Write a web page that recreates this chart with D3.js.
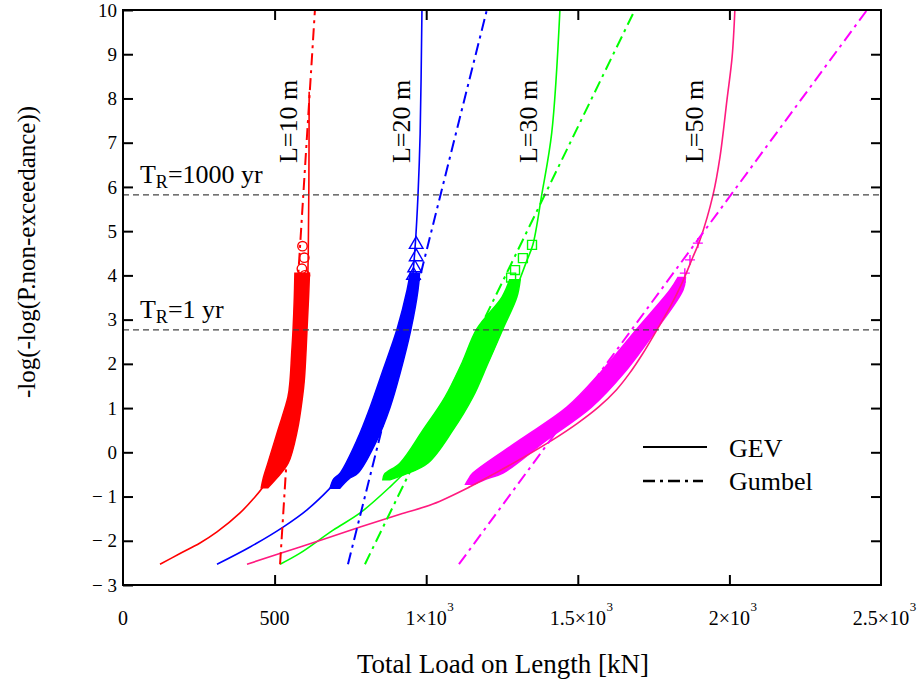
<!DOCTYPE html>
<html>
<head>
<meta charset="utf-8">
<script src="https://cdn.jsdelivr.net/npm/d3@7"></script>
<style>
  body { margin: 0; background: #fff; }
  svg text { font-family: "Liberation Serif", "Times New Roman", serif; fill: #000; }
</style>
</head>
<body>
<svg id="chart" width="920" height="685" font-family="Liberation Serif, Times New Roman, serif"></svg>
<script>
// ---- data -------------------------------------------------------------
const lengths = ["L=10 m", "L=20 m", "L=30 m", "L=50 m"];
const sampleColors = ["#ff0000", "#0000ff", "#00ff00", "#ff00ff"];
const gevColors = ["#ff0000", "#0000ff", "#00ff00", "#ff1a7f"];
const gumbelColors = ["#ff0000", "#0000ff", "#00ff00", "#ff00ff"];
const markerShapes = ["circle", "triangle", "square", "plus"];

// fitted GEV curves: [load kN, reduced variate]
const gev10 = [[122,-2.53],[185,-2.30],[254,-2.05],[310,-1.80],[386,-1.37],[430,-1.05],[462,-0.78],[492,-0.38],[520,0.05],[548,0.60],[570,1.10],[588,1.75],[600,2.50],[607,3.40],[611,4.50],[613,6.00],[614,8.15]];
const gev20 = [[310,-2.53],[419,-2.14],[528,-1.69],[607,-1.30],[683,-0.81],[735,-0.40],[785,0.05],[830,0.65],[870,1.35],[905,2.15],[933,2.95],[952,3.75],[964,4.70],[973,5.82],[980,7.20],[986,10]];
const gev30 = [[518,-2.53],[584,-2.28],[693,-1.76],[782,-1.37],[881,-0.78],[940,-0.38],[1000,0.05],[1070,0.65],[1140,1.35],[1203,2.05],[1250,2.80],[1292,3.60],[1330,4.30],[1352,4.70],[1381,5.82],[1414,7.22],[1441,10]];
const gev50 = [[409,-2.53],[584,-2.14],[782,-1.69],[914,-1.40],[1022,-1.17],[1144,-0.78],[1228,-0.47],[1322,-0.11],[1417,0.28],[1500,0.66],[1568,1.02],[1627,1.41],[1671,1.79],[1715,2.24],[1761,2.77],[1804,3.28],[1844,3.83],[1880,4.42],[1903,4.80],[1946,5.82],[1969,6.68],[1992,7.97],[2009,8.94],[2018,10]];

// fitted Gumbel lines: [load kN, reduced variate]
const gumbel10 = [[518,-2.53],[633,10]];
const gumbel20 = [[742,-2.53],[1200,10]];
const gumbel30 = [[798,-2.53],[1688,10]];
const gumbel50 = [[1108,-2.53],[2454,10]];

// dense simulated maxima: [reduced variate, lowest load, highest load]
const sample10 = [[-0.80,456,478],[-0.60,462,505],[-0.24,478,545],[0.50,511,575],[1.25,544,592],[1.63,551,598],[2.20,556,603],[2.79,561,607],[3.50,565,612],[4.05,567,615]];
const sample20 = [[-0.81,683,715],[-0.60,695,745],[-0.47,716,775],[0.28,772,838],[1.02,815,881],[1.79,854,914],[2.79,904,950],[3.67,937,973],[4.05,947,978]];
const sample30 = [[-0.62,857,880],[-0.50,862,930],[-0.24,914,1006],[0.50,989,1088],[1.25,1062,1154],[2.02,1118,1204],[2.79,1167,1253],[3.51,1250,1299],[3.90,1275,1310]];
const sample50 = [[-0.72,1130,1160],[-0.60,1140,1200],[-0.47,1154,1253],[0.28,1309,1398],[1.02,1464,1545],[1.79,1573,1652],[2.79,1695,1761],[3.67,1804,1847],[3.95,1830,1855]];

// largest individual maxima: [load kN, reduced variate]
const extremes10 = [[600,4.00],[590,4.15],[598,4.40],[592,4.66]];
const extremes20 = [[958,4.00],[962,4.17],[967,4.42],[967,4.70]];
const extremes30 = [[1280,3.95],[1293,4.12],[1319,4.39],[1349,4.69]];
const extremes50 = [[1840,3.85],[1853,4.05],[1870,4.35],[1896,4.73]];

// return-period reference levels
const returnLabels = ["1000 yr", "1 yr"];
const returnLevels = [5.82, 2.77];

// axes
const yTicks = [-3,-2,-1,0,1,2,3,4,5,6,7,8,9,10];
const xTicks = [0, 500, 1000, 1500, 2000, 2500];
const xTickMantissa = ["0", "500", "1\u00d710", "1.5\u00d710", "2\u00d710", "2.5\u00d710"];
const xTickExponent = ["", "", "3", "3", "3", "3"];

const gevSeries = [gev10, gev20, gev30, gev50];
const gumbelSeries = [gumbel10, gumbel20, gumbel30, gumbel50];
const sampleSeries = [sample10, sample20, sample30, sample50];
const extremeSeries = [extremes10, extremes20, extremes30, extremes50];

// ---- layout -----------------------------------------------------------
const serif = '"Liberation Serif", "Times New Roman", serif';
const svg = d3.select("#chart");
const x = d3.scaleLinear().domain([0, 2500]).range([123, 881]);
const y = d3.scaleLinear().domain([-3, 10]).range([585, 10]);

svg.append("defs").append("clipPath").attr("id", "plotArea")
  .append("rect")
  .attr("x", x(0)).attr("y", y(10))
  .attr("width", x(2500) - x(0)).attr("height", y(-3) - y(10));

const plot = svg.append("g").attr("clip-path", "url(#plotArea)");

// simulated maxima clouds
const band = d3.area()
  .y(d => y(d[0])).x0(d => x(d[1])).x1(d => x(d[2]))
  .curve(d3.curveCatmullRom.alpha(0.5));
sampleSeries.forEach((s, i) => {
  plot.append("path").attr("d", band(s))
    .attr("fill", sampleColors[i])
    .attr("stroke", sampleColors[i]).attr("stroke-width", 1.5);
});

// individual top markers
extremeSeries.forEach((pts, i) => {
  const shape = markerShapes[i];
  const g = plot.append("g").attr("fill", "none").attr("stroke", sampleColors[i]).attr("stroke-width", 1.4);
  pts.forEach(p => {
    const px = x(p[0]), py = y(p[1]);
    if (shape === "plus") {
      g.append("path").attr("d", `M${px-5},${py}H${px+5}M${px},${py-5}V${py+5}`);
    } else {
      const sym = shape === "circle" ? d3.symbolCircle : shape === "triangle" ? d3.symbolTriangle : d3.symbolSquare;
      g.append("path").attr("d", d3.symbol().type(sym).size(shape === "circle" ? 70 : 80)())
        .attr("transform", `translate(${px},${py})`);
    }
  });
});

const line = d3.line().x(d => x(d[0])).y(d => y(d[1])).curve(d3.curveCatmullRom.alpha(0.5));

// GEV fits
gevSeries.forEach((s, i) => {
  plot.append("path").attr("d", line(s)).attr("fill", "none")
    .attr("stroke", gevColors[i]).attr("stroke-width", 1.6);
});

// Gumbel fits
gumbelSeries.forEach((s, i) => {
  plot.append("path").attr("d", line(s)).attr("fill", "none")
    .attr("stroke", gumbelColors[i]).attr("stroke-width", 2)
    .attr("stroke-dasharray", "12,5,3,5");
});

// return-period lines
returnLevels.forEach(v => {
  plot.append("line")
    .attr("x1", x(0)).attr("x2", x(2500))
    .attr("y1", y(v)).attr("y2", y(v))
    .attr("stroke", "#444").attr("stroke-width", 1.2)
    .attr("stroke-dasharray", "6,4");
});

// ---- axes -------------------------------------------------------------
const fmtY = d => d < 0 ? "\u2212 " + Math.abs(d) : String(d);

const axisL = svg.append("g").attr("transform", `translate(${x(0)},0)`)
  .call(d3.axisLeft(y).tickValues(yTicks).tickSizeInner(-10).tickSizeOuter(0).tickPadding(6).tickFormat(fmtY));
const axisR = svg.append("g").attr("transform", `translate(${x(2500)},0)`)
  .call(d3.axisRight(y).tickValues(yTicks.slice(1, -1)).tickSizeInner(-10).tickSizeOuter(0).tickFormat(""));
const axisB = svg.append("g").attr("transform", `translate(0,${y(-3)})`)
  .call(d3.axisBottom(x).tickValues(xTicks.slice(1, -1)).tickSizeInner(-10).tickSizeOuter(0).tickFormat(""));
const axisT = svg.append("g").attr("transform", `translate(0,${y(10)})`)
  .call(d3.axisTop(x).tickValues(xTicks.slice(1, -1)).tickSizeInner(-10).tickSizeOuter(0).tickFormat(""));

[axisL, axisR, axisB, axisT].forEach(g => {
  g.attr("font-family", serif);
  g.select(".domain").remove();
  g.selectAll(".tick line").attr("stroke", "#000").attr("stroke-width", 2);
});
axisL.selectAll(".tick text")
  .style("font-family", serif)
  .style("font-size", "19px").attr("fill", "#000");

// frame
svg.append("rect")
  .attr("x", x(0)).attr("y", y(10))
  .attr("width", x(2500) - x(0)).attr("height", y(-3) - y(10))
  .attr("fill", "none").attr("stroke", "#000").attr("stroke-width", 2);

// x tick labels with powers of ten
xTicks.forEach((v, i) => {
  const t = svg.append("text").attr("x", x(v)).attr("y", 625)
    .attr("text-anchor", "middle").style("font-size", "20px")
    .text(xTickMantissa[i]);
  if (xTickExponent[i]) {
    const w = t.node().getComputedTextLength();
    svg.append("text").attr("x", x(v) + w / 2 + 0.5).attr("y", 611)
      .style("font-size", "13px").text(xTickExponent[i]);
  }
});

// axis titles
svg.append("text").attr("x", 503).attr("y", 673)
  .attr("text-anchor", "middle").style("font-size", "27px")
  .text("Total Load on Length [kN]");
svg.append("text").attr("transform", "translate(35,252) rotate(-90)")
  .attr("text-anchor", "middle").style("font-size", "25px")
  .text("-log(-log(P.non-exceedance))");

// ---- annotations ------------------------------------------------------
const lengthLabelX = [574, 947, 1365, 1913];
lengths.forEach((name, i) => {
  svg.append("text")
    .attr("transform", `translate(${x(lengthLabelX[i])},${y(6.54)}) rotate(-90)`)
    .style("font-size", "26px").text(name);
});

const returnLabelY = [6.09, 3.04];
returnLabels.forEach((lab, i) => {
  const t = svg.append("text").attr("x", x(56)).attr("y", y(returnLabelY[i])).style("font-size", "26px");
  t.append("tspan").text("T");
  t.append("tspan").attr("dy", 5).style("font-size", "18px").text("R");
  t.append("tspan").attr("dy", -5).text("=" + lab);
});

// legend
const legend = svg.append("g");
legend.append("line").attr("x1", 643).attr("x2", 707).attr("y1", 447).attr("y2", 447)
  .attr("stroke", "#000").attr("stroke-width", 2);
legend.append("line").attr("x1", 643).attr("x2", 703).attr("y1", 481).attr("y2", 481)
  .attr("stroke", "#000").attr("stroke-width", 2.5).attr("stroke-dasharray", "12,5,3,5");
legend.append("text").attr("x", 729).attr("y", 457).style("font-size", "26px").text("GEV");
legend.append("text").attr("x", 729).attr("y", 490).style("font-size", "26px").text("Gumbel");
</script>
</body>
</html>
